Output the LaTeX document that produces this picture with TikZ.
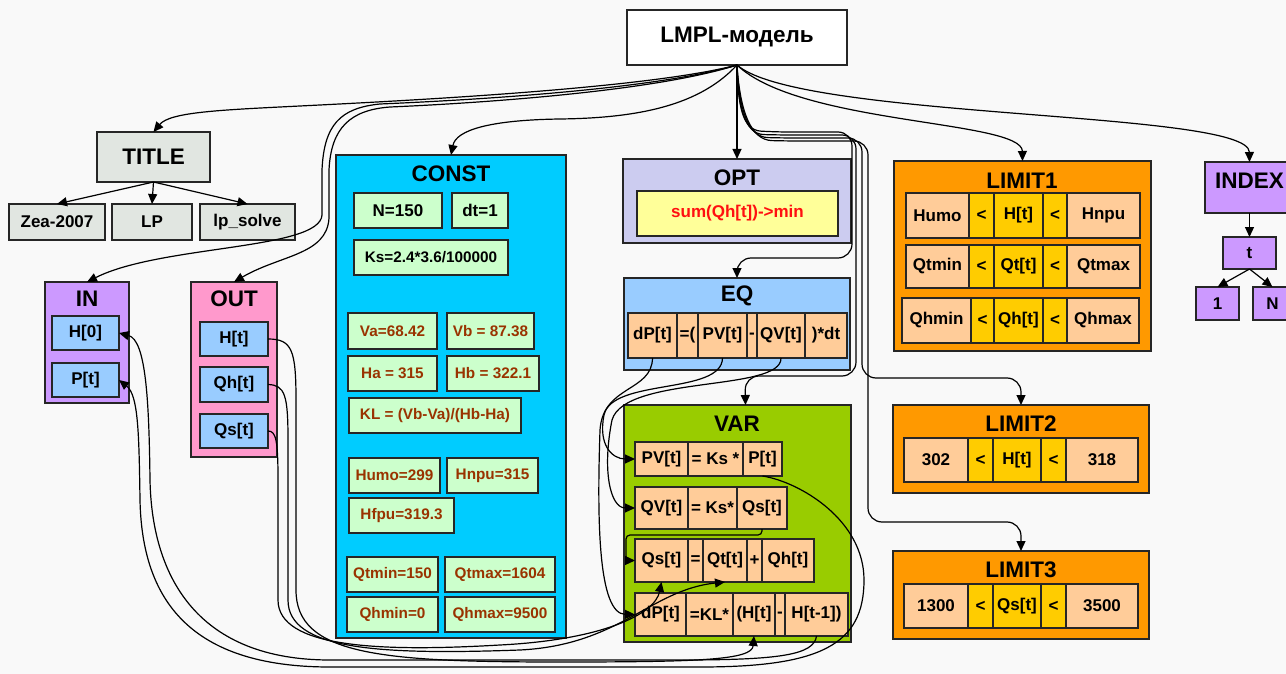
\documentclass[tikz,border=0pt]{standalone}
\usepackage{fontspec}
\setmainfont{Liberation Sans}
\usetikzlibrary{arrows.meta}
\definecolor{bgc}{HTML}{F9F9F9}
\definecolor{tgrey}{HTML}{E1E6E1}
\definecolor{purp}{HTML}{CC99FF}
\definecolor{cblue}{HTML}{99CCFF}
\definecolor{pinkc}{HTML}{FF99CC}
\definecolor{cyanc}{HTML}{00CCFF}
\definecolor{lgreen}{HTML}{CCFFCC}
\definecolor{brownt}{HTML}{993300}
\definecolor{lav}{HTML}{CCCCF0}
\definecolor{lyell}{HTML}{FFFF99}
\definecolor{redt}{HTML}{FF1010}
\definecolor{peach}{HTML}{FFCC99}
\definecolor{vgreen}{HTML}{99CC00}
\definecolor{orangec}{HTML}{FF9900}
\definecolor{yellc}{HTML}{FFCC00}
\tikzset{
 box/.style={draw=black!85, line width=1.3pt, inner sep=0pt, outer sep=0pt, font=\bfseries\fontsize{17}{19}\selectfont},
 lab/.style={inner sep=0pt, font=\bfseries\fontsize{22.5}{24}\selectfont},
 sm/.style={font=\bfseries\fontsize{15.3}{17}\selectfont},
 conn/.style={draw=black, line width=1.2pt, -{Triangle[length=10pt,width=9pt]}},
}
\newcommand\bx[7]{%
 \pgfmathsetmacro\bxw{#4-#2}\pgfmathsetmacro\bxh{#5-#3}%
 \pgfmathsetmacro\bxcx{(#2+#4)/2}\pgfmathsetmacro\bxcy{(#3+#5)/2}%
 \node[#6, minimum width=\bxw pt, minimum height=\bxh pt] (#1) at (\bxcx,\bxcy) {#7};}
\begin{document}
\begin{tikzpicture}[x=1pt,y=-1pt]
\clip (0,0) rectangle (1286,674);
\fill[bgc] (0,0) rectangle (1286,674);

% top
\bx{lmpl}{627}{10}{847}{65}{box, fill=white, lab}{LMPL-модель}

% TITLE
\bx{title}{97}{132}{210}{182}{box, fill=tgrey, lab}{TITLE}
\bx{zea}{9}{204}{105}{240}{box, fill=tgrey}{Zea-2007}
\bx{lp}{112}{204}{192}{240}{box, fill=tgrey}{LP}
\bx{lps}{200}{204}{295}{240}{box, fill=tgrey}{lp\_solve}

% IN
\bx{in}{45}{282}{129}{403}{box, fill=purp}{}
\node[lab] (inlab) at (87,299) {IN};
\bx{inh}{52}{316}{119}{350}{box, fill=cblue}{H[0]}
\bx{inp}{52}{363}{119}{397}{box, fill=cblue}{P[t]}

% OUT
\bx{out}{191}{282}{277}{457}{box, fill=pinkc}{}
\node[lab] (outlab) at (234,299) {OUT};
\bx{outh}{200}{322}{268}{356}{box, fill=cblue}{H[t]}
\bx{outqh}{200}{367}{268}{402}{box, fill=cblue}{Qh[t]}
\bx{outqs}{200}{414}{268}{448}{box, fill=cblue}{Qs[t]}

% CONST
\bx{const}{336}{155}{566}{638}{box, fill=cyanc}{}
\node[lab] (constlab) at (451,174) {CONST};
\bx{cn}{354}{193}{442}{228}{box, fill=lgreen}{N=150}
\bx{cdt}{452}{193}{508}{228}{box, fill=lgreen}{dt=1}
\bx{cks}{354}{240}{508}{275}{box, fill=lgreen, sm}{Ks=2.4*3.6/100000}
\bx{cva}{348}{313}{437}{349}{box, fill=lgreen, sm, text=brownt}{Va=68.42}
\bx{cvb}{447}{313}{534}{349}{box, fill=lgreen, sm, text=brownt}{Vb = 87.38}
\bx{cha}{348}{356}{437}{391}{box, fill=lgreen, sm, text=brownt}{Ha = 315}
\bx{chb}{447}{356}{539}{391}{box, fill=lgreen, sm, text=brownt}{Hb = 322.1}
\bx{ckl}{349}{398}{521}{433}{box, fill=lgreen, sm, text=brownt}{KL = (Vb-Va)/(Hb-Ha)}
\bx{chumo}{349}{458}{440}{493}{box, fill=lgreen, sm, text=brownt}{Humo=299}
\bx{chnpu}{447}{458}{538}{493}{box, fill=lgreen, sm, text=brownt}{Hnpu=315}
\bx{chfpu}{349}{498}{454}{533}{box, fill=lgreen, sm, text=brownt}{Hfpu=319.3}
\bx{cqtmin}{347}{557}{438}{592}{box, fill=lgreen, sm, text=brownt}{Qtmin=150}
\bx{cqtmax}{445}{557}{555}{592}{box, fill=lgreen, sm, text=brownt}{Qtmax=1604}
\bx{cqhmin}{347}{597}{438}{632}{box, fill=lgreen, sm, text=brownt}{Qhmin=0}
\bx{cqhmax}{445}{597}{555}{632}{box, fill=lgreen, sm, text=brownt}{Qhmax=9500}

% OPT
\bx{opt}{623}{159}{851}{243}{box, fill=lav}{}
\node[lab] (optlab) at (737,178) {OPT};
\bx{optf}{637}{191}{838}{236}{box, fill=lyell, text=redt}{sum(Qh[t])->min}

% EQ
\bx{eq}{624}{278}{850}{370}{box, fill=cblue}{}
\node[lab] (eqlab) at (737,296) {EQ};
\bx{eqa}{628}{313}{677}{358}{box, fill=peach}{dP[t]}
\bx{eqb}{677}{313}{698}{358}{box, fill=peach}{=(}
\bx{eqc}{698}{313}{747}{358}{box, fill=peach}{PV[t]}
\bx{eqd}{747}{313}{757}{358}{box, fill=peach}{-}
\bx{eqe}{757}{313}{805}{358}{box, fill=peach}{QV[t]}
\bx{eqf}{805}{313}{847}{358}{box, fill=peach}{)*dt}

% VAR
\bx{var}{624}{405}{851}{642}{box, fill=vgreen}{}
\node[lab] (varlab) at (737,424) {VAR};
\bx{ra}{635}{442}{688}{476}{box, fill=peach}{PV[t]}
\bx{rb}{688}{442}{743}{476}{box, fill=peach}{= Ks *}
\bx{rc}{743}{442}{782}{476}{box, fill=peach}{P[t]}
\bx{sa}{635}{487}{688}{529}{box, fill=peach}{QV[t]}
\bx{sb}{688}{487}{737}{529}{box, fill=peach}{= Ks*}
\bx{sc}{737}{487}{787}{529}{box, fill=peach}{Qs[t]}
\bx{ta}{635}{539}{688}{582}{box, fill=peach}{Qs[t]}
\bx{tb}{688}{539}{703}{582}{box, fill=peach}{=}
\bx{tc}{703}{539}{747}{582}{box, fill=peach}{Qt[t]}
\bx{td}{747}{539}{762}{582}{box, fill=peach}{+}
\bx{te}{762}{539}{814}{582}{box, fill=peach}{Qh[t]}
\bx{ua}{635}{593}{686}{636}{box, fill=peach}{dP[t]}
\bx{ub}{686}{593}{733}{636}{box, fill=peach}{=KL*}
\bx{uc}{733}{593}{775}{636}{box, fill=peach}{(H[t]}
\bx{ud}{775}{593}{785}{636}{box, fill=peach}{-}
\bx{ue}{785}{593}{848}{636}{box, fill=peach}{H[t-1])}

% LIMIT1
\bx{limita}{894}{161}{1151}{351}{box, fill=orangec}{}
\node[lab] (limitalab) at (1022,181) {LIMIT1};
\bx{la1}{906}{193}{969}{238}{box, fill=peach}{Humo}
\bx{la2}{969}{193}{994}{238}{box, fill=yellc}{<}
\bx{la3}{994}{193}{1043}{238}{box, fill=yellc}{H[t]}
\bx{la4}{1043}{193}{1067}{238}{box, fill=yellc}{<}
\bx{la5}{1067}{193}{1140}{238}{box, fill=peach}{Hnpu}
\bx{lb1}{906}{245}{969}{288}{box, fill=peach}{Qtmin}
\bx{lb2}{969}{245}{994}{288}{box, fill=yellc}{<}
\bx{lb3}{994}{245}{1043}{288}{box, fill=yellc}{Qt[t]}
\bx{lb4}{1043}{245}{1067}{288}{box, fill=yellc}{<}
\bx{lb5}{1067}{245}{1140}{288}{box, fill=peach}{Qtmax}
\bx{lc1}{902}{298}{971}{343}{box, fill=peach}{Qhmin}
\bx{lc2}{971}{298}{994}{343}{box, fill=yellc}{<}
\bx{lc3}{994}{298}{1043}{343}{box, fill=yellc}{Qh[t]}
\bx{lc4}{1043}{298}{1067}{343}{box, fill=yellc}{<}
\bx{lc5}{1067}{298}{1139}{343}{box, fill=peach}{Qhmax}

% LIMIT2
\bx{limitb}{893}{405}{1149}{493}{box, fill=orangec}{}
\node[lab] (limitblab) at (1021,424) {LIMIT2};
\bx{ld1}{904}{438}{968}{482}{box, fill=peach}{302}
\bx{ld2}{968}{438}{993}{482}{box, fill=yellc}{<}
\bx{ld3}{993}{438}{1041}{482}{box, fill=yellc}{H[t]}
\bx{ld4}{1041}{438}{1066}{482}{box, fill=yellc}{<}
\bx{ld5}{1066}{438}{1138}{482}{box, fill=peach}{318}

% LIMIT3
\bx{limitc}{893}{551}{1149}{639}{box, fill=orangec}{}
\node[lab] (limitclab) at (1021,570) {LIMIT3};
\bx{le1}{904}{584}{968}{628}{box, fill=peach}{1300}
\bx{le2}{968}{584}{993}{628}{box, fill=yellc}{<}
\bx{le3}{993}{584}{1041}{628}{box, fill=yellc}{Qs[t]}
\bx{le4}{1041}{584}{1066}{628}{box, fill=yellc}{<}
\bx{le5}{1066}{584}{1138}{628}{box, fill=peach}{3500}

% INDEX
\bx{index}{1205}{162}{1294}{213}{box, fill=purp}{}
\node[lab] (indexlab) at (1249.5,181) {INDEX};
\bx{it}{1223}{237}{1276}{269}{box, fill=purp}{t}
\bx{ione}{1196}{287}{1239}{320}{box, fill=purp}{1}
\bx{inn}{1253}{287}{1292}{320}{box, fill=purp}{N}

% ---------- connectors ----------
\draw[conn] (title.south) -- (zea.north);
\draw[conn] (title.south) -- (lp.north);
\draw[conn] (title.south) -- (lps.north);
\draw[conn] (index.south) -- (it.north);
\draw[conn] (it.south) -- (ione.north);
\draw[conn] (it.south) -- (inn.north);

% from LMPL
\draw[conn] (lmpl.south) .. controls (650,88) and (420,100) .. (300,106) .. controls (220,110) and (170,112) .. (title.north);
\draw[conn] (lmpl.south) .. controls (650,91) and (450,101) .. (380,104) .. controls (340,108) and (324,125) .. (322,170) -- (322,215) .. controls (320,250) and (160,245) .. (in.north);
\draw[conn] (lmpl.south) .. controls (650,93) and (460,104) .. (390,107) .. controls (350,110) and (331,128) .. (329,170) -- (329,218) .. controls (327,255) and (280,255) .. (out.north);
\draw[conn] (lmpl.south) .. controls (700,105) and (640,118) .. (560,119) .. controls (490,120) and (456,130) .. (const.north);
\draw[conn] (lmpl.south) -- (opt.north);
\draw[conn, rounded corners=14pt] (lmpl.south) .. controls (738,105) and (742,130) .. (775,132) -- (852,132) -- (852,258) -- (737,258) -- (eq.north);
\draw[conn, rounded corners=14pt] (lmpl.south) .. controls (738,108) and (745,134) .. (778,135) -- (856,135) -- (856,376) -- (745,376) -- ([xshift=8pt]var.north);
\draw[conn, rounded corners=14pt] (lmpl.south) .. controls (739,110) and (748,137) .. (782,138) -- (862,138) -- (862,378) -- (1021,378) -- (limitb.north);
\draw[conn, rounded corners=14pt] (lmpl.south) .. controls (740,112) and (751,140) .. (786,141) -- (868,141) -- (868,522) -- (1021,522) -- (limitc.north);
\draw[conn] (lmpl.south) .. controls (800,125) and (1022,120) .. (limita.north);
\draw[conn] (lmpl.south) .. controls (800,120) and (1249,110) .. (index.north);

% EQ -> VAR
\draw[conn] (eqc.south) .. controls (722,395) and (612,378) .. (604,415) .. controls (598,445) and (612,459) .. (ra.west);
\draw[conn] (eqe.south) .. controls (782,392) and (625,375) .. (612,420) .. controls (602,470) and (610,508) .. (sa.west);
\draw[conn] (eqa.south) .. controls (652,392) and (603,385) .. (600,430) .. controls (597,520) and (598,614) .. (ua.west);
\draw[conn, rounded corners=4pt] (sc.south) -- ++(0,6) -| ([xshift=-9pt]ta.west) -- (ta.west);

% OUT -> VAR
\draw[conn] (outh.east) .. controls (292,339) and (296,350) .. (296,400) -- (296,590) .. controls (296,655) and (380,662) .. (560,662) .. controls (700,662) and (752,660) .. (uc.south);
\draw[conn] (outqh.east) .. controls (285,385) and (288,395) .. (288,440) -- (288,600) .. controls (288,650) and (380,655) .. (520,650) .. controls (620,645) and (650,590) .. (tc.south);
\draw[conn] (outqs.east) .. controls (276,431) and (278,440) .. (278,480) -- (278,600) .. controls (278,648) and (380,652) .. (500,645) .. controls (600,640) and (655,615) .. (ta.south);

% VAR -> IN
\draw[conn] (rc.south) .. controls (800,482) and (864,520) .. (864,580) .. controls (864,645) and (820,667) .. (700,667) -- (330,667) .. controls (190,667) and (142,600) .. (140,500) .. controls (139,430) and (138,395) .. (inp.east);
\draw[conn] (ue.south) .. controls (814,655) and (780,660) .. (680,660) -- (330,660) .. controls (200,660) and (152,580) .. (150,480) .. controls (149,400) and (146,340) .. (inh.east);
\end{tikzpicture}
\end{document}
